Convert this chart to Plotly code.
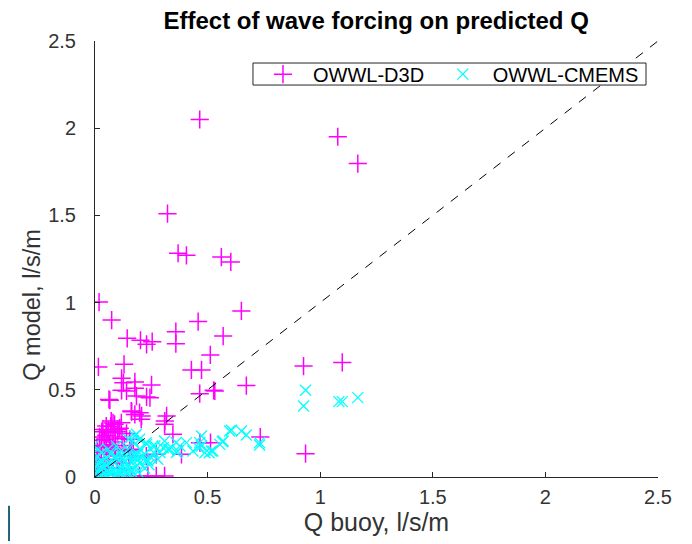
import plotly.graph_objects as go

# ---- data ----
d3d_x = [0.465, 1.078, 1.167, 0.322, 0.369, 0.406, 0.561, 0.603,
         0.018, 0.074, 0.650, 0.458, 0.143, 0.202, 0.229, 0.254, 0.359, 0.359, 0.569, 0.512,
         0.428, 0.473, 0.015, 0.129, 0.926, 1.098,
         0.118, 0.177, 0.251, 0.177, 0.118, 0.140, 0.184, 0.229, 0.244, 0.062, 0.465, 0.527, 0.672,
         0.126, 0.066, 0.163, 0.177, 0.207, 0.310, 0.318, 0.532,
         0.161, 0.198, 0.205, 0.072, 0.087, 0.117, 0.050, 0.035, 0.058, 0.102, 0.043, 0.021, 0.028,
         0.065, 0.087, 0.154, 0.161, 0.346, 0.309, 0.272, 0.228, 0.513, 0.734, 0.384, 0.935, 0.466,
         0.161, 0.198, 0.235, 0.272, 0.309, 0.120, 0.140,
         0.00, 0.01, 0.02, 0.00, 0.03, 0.01, 0.04, 0.02, 0.05, 0.03, 0.06, 0.04, 0.07, 0.05, 0.08,
         0.06, 0.09, 0.07, 0.10, 0.02, 0.01, 0.03, 0.08, 0.11, 0.12, 0.09, 0.11, 0.13, 0.14, 0.06,
         0.08, 0.10, 0.12, 0.15, 0.17, 0.04, 0.00, 0.02]
d3d_y = [2.050, 1.951, 1.797, 1.510, 1.283, 1.271, 1.261, 1.233,
         1.003, 0.900, 0.952, 0.891, 0.795, 0.784, 0.761, 0.776, 0.833, 0.764, 0.808, 0.700,
         0.614, 0.614, 0.631, 0.646, 0.636, 0.657,
         0.566, 0.545, 0.528, 0.509, 0.497, 0.493, 0.464, 0.459, 0.455, 0.445, 0.478, 0.497, 0.524,
         0.541, 0.440, 0.374, 0.359, 0.350, 0.321, 0.350, 0.493,
         0.378, 0.369, 0.331, 0.321, 0.302, 0.311, 0.292, 0.273, 0.254, 0.273, 0.216, 0.178, 0.149,
         0.187, 0.159, 0.216, 0.159, 0.245, 0.302, 0.130, 0.120, 0.197, 0.229, 0.130, 0.134, 0.197,
         0.006, 0.006, 0.006, 0.006, 0.006, 0.008, 0.004,
         0.00, 0.02, 0.05, 0.08, 0.03, 0.11, 0.07, 0.14, 0.10, 0.18, 0.13, 0.21, 0.17, 0.24, 0.20,
         0.27, 0.23, 0.29, 0.26, 0.23, 0.17, 0.26, 0.31, 0.28, 0.22, 0.15, 0.12, 0.18, 0.25, 0.05,
         0.02, 0.05, 0.08, 0.12, 0.15, 0.01, 0.04, 0.01]

cmems_x = [0.935, 0.926, 1.083, 1.098, 1.167,
           0.606, 0.650, 0.672, 0.731, 0.566, 0.554, 0.517, 0.507, 0.473, 0.473, 0.488,
           0.598, 0.569, 0.524, 0.465, 0.458, 0.406, 0.377, 0.435, 0.332, 0.303, 0.288, 0.266,
           0.229, 0.200, 0.184, 0.170, 0.148, 0.220, 0.362, 0.731,
           0.176, 0.198, 0.227, 0.257, 0.309, 0.360, 0.368, 0.324, 0.279, 0.235, 0.190, 0.146,
           0.117, 0.095, 0.058, 0.013, -0.008,
           0.00, 0.01, 0.02, 0.00, 0.03, 0.01, 0.04, 0.02, 0.05, 0.00, 0.06, 0.03, 0.07, 0.04, 0.08,
           0.05, 0.09, 0.10, 0.06, 0.11, 0.12, 0.08, 0.13, 0.14, 0.10, 0.15, 0.16, 0.12, 0.17, 0.18,
           0.14, 0.19, 0.20, 0.02, 0.01, 0.03, 0.00, 0.05, 0.07, 0.09, 0.11, 0.13, 0.21, 0.23, 0.25,
           0.06, 0.08, 0.10, 0.13, 0.15, 0.17, 0.19, 0.22, 0.04, 0.01, 0.03, 0.16, 0.18, 0.26, 0.24]
cmems_y = [0.497, 0.407, 0.432, 0.432, 0.455,
           0.268, 0.264, 0.241, 0.183, 0.202, 0.187, 0.149, 0.139, 0.235, 0.178, 0.139,
           0.264, 0.206, 0.149, 0.197, 0.170, 0.197, 0.178, 0.149, 0.159, 0.168, 0.140, 0.178,
           0.187, 0.159, 0.245, 0.206, 0.216, 0.130, 0.140, 0.197,
           0.235, 0.216, 0.197, 0.178, 0.206, 0.197, 0.149, 0.159, 0.102, 0.092, 0.130, 0.159,
           0.149, 0.178, 0.159, 0.159, 0.178,
           0.00, 0.01, 0.00, 0.02, 0.01, 0.03, 0.02, 0.04, 0.01, 0.05, 0.03, 0.06, 0.02, 0.05, 0.04,
           0.07, 0.01, 0.03, 0.08, 0.05, 0.02, 0.09, 0.06, 0.03, 0.10, 0.07, 0.04, 0.11, 0.09, 0.06,
           0.12, 0.10, 0.08, 0.09, 0.12, 0.14, 0.10, 0.11, 0.13, 0.12, 0.14, 0.09, 0.12, 0.10, 0.11,
           0.00, 0.00, 0.01, 0.00, 0.01, 0.02, 0.03, 0.05, 0.00, 0.07, 0.09, 0.12, 0.13, 0.14, 0.07]

one_to_one = [0, 2.5]

tick_vals = [0, 0.5, 1, 1.5, 2, 2.5]
tick_text = ["0", "0.5", "1", "1.5", "2", "2.5"]

MAG = "#FF00FF"
CYA = "#00FFFF"
AX = "#262626"
FONT = "Liberation Sans, Arial, sans-serif"

fig = go.Figure()
fig.add_trace(go.Scatter(
    x=d3d_x, y=d3d_y, mode="markers", name="OWWL-D3D", legend="legend",
    marker=dict(symbol="cross-thin", size=13, color=MAG, line=dict(color=MAG, width=1.5)),
))
fig.add_trace(go.Scatter(
    x=cmems_x, y=cmems_y, mode="markers", name="OWWL-CMEMS", legend="legend2",
    marker=dict(symbol="x-thin", size=11, color=CYA, line=dict(color=CYA, width=1.3)),
))
fig.add_trace(go.Scatter(
    x=one_to_one, y=one_to_one, mode="lines", showlegend=False,
    line=dict(color="black", width=1, dash="dash"),
))

axis_common = dict(
    range=[0, 2.5], tickvals=tick_vals, ticktext=tick_text, automargin=False,
    showgrid=False, zeroline=False, showline=True, linecolor=AX, linewidth=1,
    ticks="inside", ticklen=5, tickcolor=AX,
    tickfont=dict(family=FONT, size=20, color="#333333"),
)

legend_common = dict(orientation="h", yanchor="middle", y=0.924, xanchor="left",
                     borderwidth=0, bgcolor="rgba(0,0,0,0)",
                     font=dict(family=FONT, size=20, color="black"), itemwidth=50)

fig.update_layout(
    width=692, height=544,
    margin=dict(l=87, r=42, t=33, b=75),
    paper_bgcolor="white", plot_bgcolor="white",
    title=dict(text="<b>Effect of wave forcing on predicted Q</b>",
               font=dict(family=FONT, size=24, color="black"),
               x=0.532, xanchor="center", y=0.977, yanchor="middle"),
    xaxis=dict(title=dict(text="Q buoy, l/s/m", standoff=6,
                          font=dict(family=FONT, size=25, color="#333333")),
               ticklabelstandoff=2, **axis_common),
    yaxis=dict(ticklabelstandoff=14, **axis_common),
    legend=dict(x=0.2806, **legend_common),
    legend2=dict(x=0.600, **legend_common),
    showlegend=True,
)

# y-axis label placed as rotated text
fig.add_annotation(text="Q model, l/s/m", xref="paper", yref="paper",
                   x=-0.112, y=0.395, xanchor="center", yanchor="middle",
                   textangle=-90, showarrow=False,
                   font=dict(family=FONT, size=23.5, color="#333333"))

# legend frame (white fill hides data behind, like the reference)
fig.add_shape(type="rect", xref="paper", yref="paper", layer="above",
              x0=0.2806, x1=0.9787, y0=0.899, y1=0.9495,
              fillcolor="white", line=dict(color=AX, width=1))

# small teal edge mark at the bottom-left of the picture
fig.add_shape(type="line", xref="paper", yref="paper",
              x0=-0.1527, x1=-0.1527, y0=-0.066, y1=-0.147,
              line=dict(color="#1b6378", width=2))

fig.write_html("out.html")
